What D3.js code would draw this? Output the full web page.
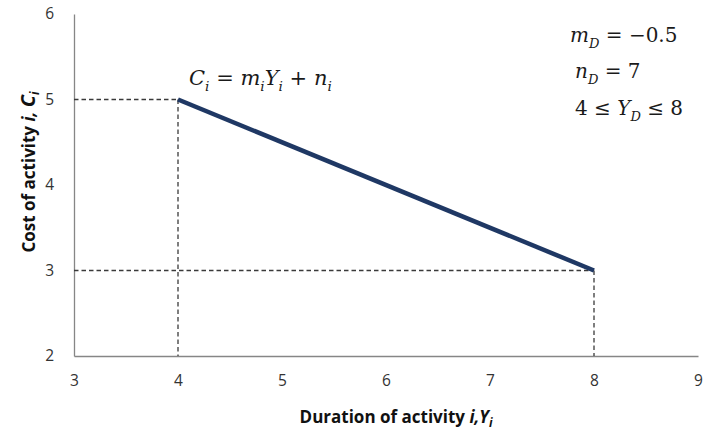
<!DOCTYPE html>
<html>
<head>
<meta charset="utf-8">
<script src="https://cdn.jsdelivr.net/npm/d3@7/dist/d3.min.js"></script>
<style>
  html, body { margin: 0; padding: 0; background: #fff; }
  svg { display: block; }
  .eq { font-family: "DejaVu Serif", "Liberation Serif", serif; font-style: italic; fill: #1a1a1a; }
  .axis-title { font-family: "Open Sans", "Liberation Sans", sans-serif; font-weight: bold; fill: #111; }
</style>
</head>
<body>
<svg id="chart" width="703" height="433"></svg>
<script>
// Linear cost–duration relation for activity i
const durations = [4, 8];
const costs = [5, 3];
const xTicks = [3, 4, 5, 6, 7, 8, 9];
const yTicks = [2, 3, 4, 5, 6];
const xDomain = [3, 9];
const yDomain = [2, 6];

const svg = d3.select("#chart");
const margin = { left: 74, right: 5, top: 14, bottom: 77 };
const W = 703, H = 433;

const x = d3.scaleLinear().domain(xDomain).range([margin.left, W - margin.right]);
const y = d3.scaleLinear().domain(yDomain).range([H - margin.bottom, margin.top]);

function styleAxis(g) {
  g.select(".domain").attr("stroke", "#868686").attr("stroke-width", 1.3);
  g.selectAll(".tick text")
    .style("font-family", "'Open Sans', 'Liberation Sans', sans-serif")
    .style("font-size", "15.5px")
    .style("fill", "#333");
}

// Axes: plain lines, no tick marks
svg.append("g")
  .attr("transform", `translate(0,${y(yDomain[0])})`)
  .call(d3.axisBottom(x).tickValues(xTicks).tickSize(0).tickPadding(19).tickFormat(d3.format("d")))
  .call(styleAxis);

svg.append("g")
  .attr("transform", `translate(${x(xDomain[0])},0)`)
  .call(d3.axisLeft(y).tickValues(yTicks).tickSize(0).tickPadding(20).tickFormat(d3.format("d")))
  .call(styleAxis);

// Dashed guides to the end points
const guides = svg.append("g")
  .attr("stroke", "#3a3a3a").attr("stroke-width", 1.3).attr("stroke-dasharray", "4.5,3").attr("fill", "none");
durations.forEach((d, i) => {
  guides.append("line")
    .attr("x1", x(xDomain[0])).attr("x2", x(d))
    .attr("y1", y(costs[i])).attr("y2", y(costs[i]));
  guides.append("line")
    .attr("x1", x(d)).attr("x2", x(d))
    .attr("y1", y(costs[i])).attr("y2", y(yDomain[0]));
});

// Cost line
const pts = durations.map((d, i) => [d, costs[i]]);
svg.append("path")
  .datum(pts)
  .attr("fill", "none")
  .attr("stroke", "#1f3864")
  .attr("stroke-width", 4.5)
  .attr("d", d3.line().x(p => x(p[0])).y(p => y(p[1])));

// Equations
function eq(xp, yp, parts, size) {
  const t = svg.append("text").attr("class", "eq").attr("x", xp).attr("y", yp).attr("font-size", size);
  parts.forEach(p => {
    const s = t.append("tspan").text(p.t);
    if (p.sub) s.attr("font-size", size * 0.65).attr("dy", size * 0.28);
    if (p.up) s.attr("dy", -size * 0.28);
    if (p.n) s.attr("font-style", "normal");
  });
}
eq(189, 85, [{t:"C"},{t:"i",sub:1},{t:" = m",up:1},{t:"i",sub:1},{t:"Y",up:1},{t:"i",sub:1},{t:" + n",up:1},{t:"i",sub:1}], 21);
eq(570, 42, [{t:"m"},{t:"D",sub:1},{t:" =  −0.5",up:1,n:1}], 20);
eq(575, 78, [{t:"n"},{t:"D",sub:1},{t:" = 7",up:1,n:1}], 20);
eq(575, 115, [{t:"4 ≤ ",n:1},{t:"Y"},{t:"D",sub:1},{t:" ≤ 8",up:1,n:1}], 20);

// Axis titles
const xt = svg.append("text").attr("class", "axis-title").attr("font-size", 17)
  .attr("x", 396).attr("y", 423).attr("text-anchor", "middle");
xt.append("tspan").text("Duration of activity ");
xt.append("tspan").attr("font-style", "italic").text("i,Y");
xt.append("tspan").attr("font-style", "italic").attr("font-size", 12).attr("dy", 4).text("i");

const yt = svg.append("text").attr("class", "axis-title").attr("font-size", 17)
  .attr("transform", `translate(35,172) rotate(-90)`).attr("text-anchor", "middle");
yt.append("tspan").text("Cost of activity ");
yt.append("tspan").attr("font-style", "italic").text("i, ");
yt.append("tspan").attr("font-style", "italic").attr("font-size", 20).text("C");
yt.append("tspan").attr("font-style", "italic").attr("font-size", 12).attr("dy", 4).text("i");
</script>
</body>
</html>
